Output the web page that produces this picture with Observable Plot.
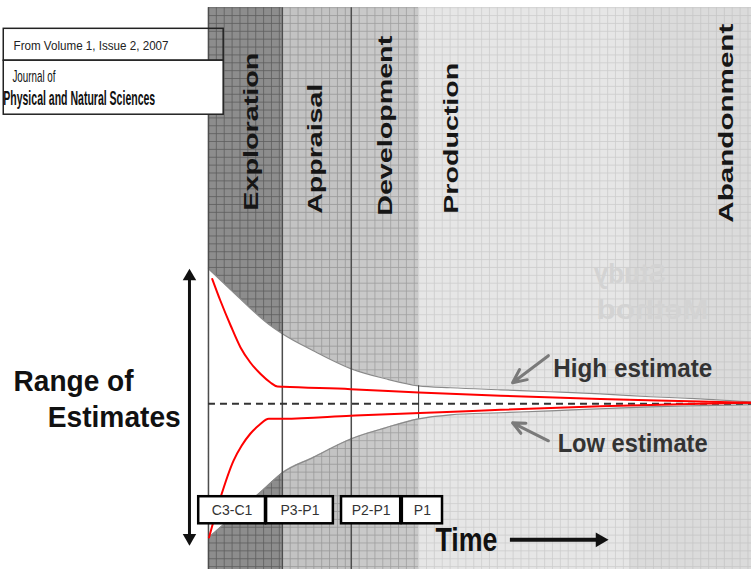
<!DOCTYPE html>
<html>
<head>
<meta charset="utf-8">
<script src="https://cdn.jsdelivr.net/npm/d3@7"></script>
<script src="https://cdn.jsdelivr.net/npm/@observablehq/plot@0.6"></script>
<style>
  html, body { margin: 0; padding: 0; background: #fff; overflow: hidden; }
  #chart svg { display: block; }
</style>
</head>
<body>
<div id="chart"></div>
<script>
// ---------------- Data (arbitrary units: time 0–100, estimate centred on 0) ----------------
const phases     = ["Exploration", "Appraisal", "Development", "Production", "Abandonment"];
const phaseStart = [0, 13.6, 26.3, 38.7, 77.6];
const phaseEnd   = [13.6, 26.3, 38.7, 77.6, 100];

// uncertainty envelope (white funnel)
const envTime = [0, 3.7, 7.2, 10.5, 13.6, 19.3, 26.3, 32.6, 38.7, 44.6, 53.8, 63.0, 72.2, 81.4, 90.6, 100];
const envHigh = [97.8, 84.0, 71.0, 59.4, 50.7, 38.4, 25.3, 18.1, 13.0, 11.6, 10.1, 8.7, 7.2, 5.1, 3.6, 1.4];
const envLow  = [-97.0, -84.3, -72.4, -60.8, -50.0, -38.8, -25.3, -17.4, -10.9, -8.0, -6.5, -5.1, -3.6, -2.2, -1.4, -0.7];

// red high-estimate curve
const highTime  = [0.7, 2.2, 4.1, 5.9, 7.7, 9.6, 11.4, 12.7, 13.8, 26.2, 38.7, 53.8, 72.2, 90.6, 100];
const highValue = [90.3, 74.6, 56.5, 40.8, 29.9, 21.5, 15.4, 12.5, 12.3, 10.6, 8.2, 5.8, 3.4, 1.7, 0.7];

// red low-estimate curve
const lowTime  = [0.1, 2.2, 4.6, 6.1, 7.7, 9.4, 11.1, 13.8, 26.2, 35.4, 42.7, 53.8, 72.2, 90.6, 100];
const lowValue = [-96.8, -68.1, -41.3, -30.4, -21.7, -15.2, -10.9, -10.9, -8.7, -7.2, -6.2, -4.3, -1.8, 0.0, 0.7];

// reserve classification boxes
const reserveLabels = ["C3-C1", "P3-P1", "P2-P1", "P1"];
const reserveStart  = [-1.8, 10.7, 24.5, 35.7];
const reserveEnd    = [10.5, 23.0, 35.4, 43.1];

// ---------------- Layout / style (not data) ----------------
const L = {
  xDomain: [-38.3, 100], yDomain: [-120, 292], bandTop: 286.8,
  gridX: 1.45, gridY: 5.7,
  bandFill:   ["#8d8d8d", "#c3c3c3", "#c9c9c9", "#e6e6e6", "#dbdbdb"],
  gridStroke: ["#5e5e5e", "#989898", "#a0a0a0", "#cdcdcd", "#c6c6c6"],
  labelX: [7.9, 19.7, 32.6, 44.8, 95.4],
  labelY: [139.8, 137.6, 136.1, 137.6, 131.1],
  boxY: [-86.9, -67.3],
  font: "'Liberation Sans', Arial, Helvetica, sans-serif"
};

const textLengths = new Map([
  ["Exploration", 158], ["Appraisal", 130], ["Development", 180], ["Production", 151], ["Abandonment", 199],
  ["Range of", 120], ["Estimates", 133], ["Time", 62], ["High estimate", 159], ["Low estimate", 150],
  ["From Volume 1, Issue 2, 2007", 155], ["Journal of", 43], ["Physical and Natural Sciences", 152],
  ["Study", 72], ["Method", 112]
]);

// ---------------- Build tables ----------------
const bands = phases.map((name, i) => ({name, start: phaseStart[i], end: phaseEnd[i], lx: L.labelX[i], ly: L.labelY[i]}));
const env   = envTime.map((t, i) => ({t, high: envHigh[i], low: envLow[i]}));
const high  = highTime.map((t, i) => ({t, v: highValue[i]}));
const low   = lowTime.map((t, i) => ({t, v: lowValue[i]}));
const boxes = reserveLabels.map((label, i) => ({label, x1: reserveStart[i], x2: reserveEnd[i]}));

const bandMarks = bands.flatMap((b, i) => [
  Plot.rect([b], {x1: "start", x2: "end", y1: () => L.yDomain[0], y2: () => L.bandTop, fill: L.bandFill[i]}),
  Plot.ruleX(d3.range(b.start, b.end, L.gridX), {x: d => d, y1: () => L.yDomain[0], y2: () => L.bandTop,
    stroke: L.gridStroke[i], strokeWidth: 0.8}),
  Plot.ruleY(d3.range(L.bandTop, L.yDomain[0], -L.gridY), {y: d => d, x1: () => b.start, x2: () => b.end,
    stroke: L.gridStroke[i], strokeWidth: 0.8})
]);

const curve = "monotone-x";

const svg = Plot.plot({
  width: 751, height: 569, margin: 0,
  x: {domain: L.xDomain, axis: null},
  y: {domain: L.yDomain, axis: null},
  style: {background: "white", fontFamily: L.font},
  marks: [
    ...bandMarks,
    // ghost (mirrored bleed-through) text
    Plot.text([{x: 84.2, y: 87.6, s: "Study"}, {x: 92.1, y: 61.5, s: "Method"}],
      {x: "x", y: "y", text: "s", textAnchor: "start", lineAnchor: "bottom", fontSize: 27, fontWeight: "bold", fill: "#d3d3d3"}),
    // white funnel
    Plot.areaY(env, {x: "t", y1: "low", y2: "high", fill: "white", curve}),
    Plot.line(env, {x: "t", y: "high", stroke: "#8a8a8a", strokeWidth: 1.2, curve}),
    Plot.line(env, {x: "t", y: "low", stroke: "#8a8a8a", strokeWidth: 1.2, curve}),
    // phase dividers
    Plot.ruleX(bands.slice(0, 3), {x: "start", y1: () => L.yDomain[0], y2: () => L.bandTop, stroke: "#4d4d4d", strokeWidth: 1.5}),
    Plot.ruleX(env.filter(d => d.t === phaseStart[3]), {x: "t", y1: "low", y2: "high", stroke: "#333", strokeWidth: 1}),
    // centre dashed line
    Plot.ruleY([0], {x1: () => 0, x2: () => 100, stroke: "#333", strokeWidth: 2, strokeDasharray: "7,5"}),
    // red estimate curves
    Plot.line(high, {x: "t", y: "v", stroke: "#ff0000", strokeWidth: 2, curve}),
    Plot.line(low, {x: "t", y: "v", stroke: "#ff0000", strokeWidth: 2, curve}),
    // reserve boxes
    Plot.rect(boxes, {x1: "x1", x2: "x2", y1: () => L.boxY[0], y2: () => L.boxY[1], fill: "white", stroke: "#000", strokeWidth: 2.5}),
    Plot.text(boxes, {x: d => (d.x1 + d.x2) / 2, y: () => (L.boxY[0] + L.boxY[1]) / 2, text: "label", fontSize: 14, fill: "#333"}),
    // phase labels
    Plot.text(bands, {x: "lx", y: "ly", text: "name", rotate: -90, textAnchor: "start", lineAnchor: "middle",
      fontSize: 21, fontWeight: "bold", fill: "#161616"}),
    // range-of-estimates double arrow
    Plot.ruleX([-3.5], {x: d => d, y1: () => -97, y2: () => 92, stroke: "#111", strokeWidth: 3}),
    Plot.dot([{x: -3.5, y: 92.2, r: 0}, {x: -3.5, y: -97.2, r: 180}], {x: "x", y: "y", rotate: "r", symbol: "triangle", r: 5, fill: "#111", stroke: "none"}),
    Plot.text([{x: -35.9, y: 9.4, s: "Range of"}, {x: -29.6, y: -16.7, s: "Estimates"}],
      {x: "x", y: "y", text: "s", textAnchor: "start", lineAnchor: "bottom", fontSize: 30, fontWeight: "bold", fill: "#111"}),
    // time arrow
    Plot.text([{x: 41.8, y: -106.4, s: "Time"}], {x: "x", y: "y", text: "s", textAnchor: "start", lineAnchor: "bottom", fontSize: 34, fontWeight: "bold", fill: "#111"}),
    Plot.ruleY([-98.5], {y: d => d, x1: () => 55.6, x2: () => 71.5, stroke: "#111", strokeWidth: 4}),
    Plot.dot([{x: 72.1, y: -98.5}], {x: "x", y: "y", rotate: 90, symbol: "triangle", r: 5.5, fill: "#111", stroke: "none"}),
    // high / low estimate annotations
    Plot.arrow([{x1: 62.6, y1: 34.8, x2: 56.0, y2: 15.2}, {x1: 62.6, y1: -26.8, x2: 56.0, y2: -13.8}],
      {x1: "x1", y1: "y1", x2: "x2", y2: "y2", stroke: "#7a7a7a", strokeWidth: 3, headLength: 10, headAngle: 50}),
    Plot.text([{x: 63.5, y: 19.6, s: "High estimate"}, {x: 64.3, y: -34.8, s: "Low estimate"}],
      {x: "x", y: "y", text: "s", textAnchor: "start", lineAnchor: "bottom", fontSize: 26, fontWeight: "bold", fill: "#333"}),
    // journal header boxes
    Plot.rect([{x1: -37.7, x2: 2.8, y1: 248.4, y2: 271.5}], {x1: "x1", x2: "x2", y1: "y1", y2: "y2", fill: "none", stroke: "#222", strokeWidth: 1.5}),
    Plot.rect([{x1: -37.7, x2: 2.8, y1: 209.3, y2: 248.4}], {x1: "x1", x2: "x2", y1: "y1", y2: "y2", fill: "white", stroke: "#222", strokeWidth: 1.5}),
    Plot.text([{x: -35.9, y: 256.3, s: "From Volume 1, Issue 2, 2007"}], {x: "x", y: "y", text: "s", textAnchor: "start", lineAnchor: "bottom", fontSize: 12.5, fill: "#222"}),
    Plot.text([{x: -36.1, y: 233.2, s: "Journal of"}], {x: "x", y: "y", text: "s", textAnchor: "start", lineAnchor: "bottom", fontSize: 17, fill: "#111"}),
    Plot.text([{x: -37.8, y: 216.3, s: "Physical and Natural Sciences"}], {x: "x", y: "y", text: "s", textAnchor: "start", lineAnchor: "bottom", fontSize: 21, fontWeight: "bold", fill: "#111"})
  ]
});

// stretch/condense text to the widths seen in the reference; mirror ghost text
d3.select(svg).selectAll("text").each(function () {
  const s = this.textContent;
  const len = textLengths.get(s);
  if (len) {
    this.setAttribute("textLength", len);
    this.setAttribute("lengthAdjust", "spacingAndGlyphs");
  }
  if (s === "Study" || s === "Method") {
    const t = this.getAttribute("transform") || "";
    this.setAttribute("transform", t + " scale(-1,1)");
  }
});

document.getElementById("chart").appendChild(svg);
</script>
</body>
</html>
